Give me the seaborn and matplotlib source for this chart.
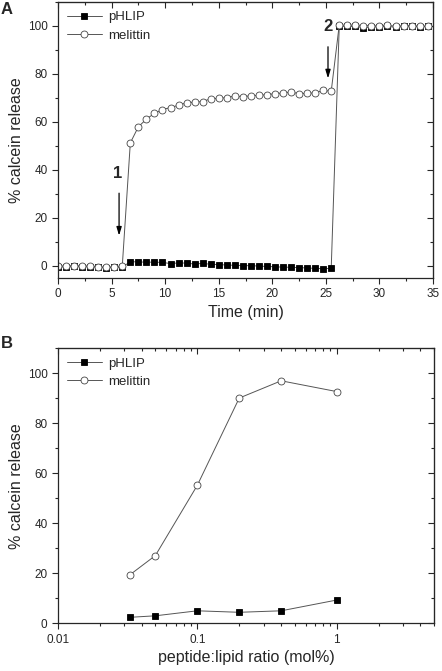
import numpy as np
import pandas as pd
import seaborn as sns
import matplotlib.pyplot as plt
from matplotlib.ticker import MultipleLocator, LogLocator, NullFormatter, FixedLocator

# panel A: time course (min), sampled every 0.75 min
time_min = [0.0, 0.75, 1.5, 2.25, 3.0, 3.75, 4.5, 5.25, 6.0, 6.75, 7.5, 8.25, 9.0,
            9.75, 10.5, 11.25, 12.0, 12.75, 13.5, 14.25, 15.0, 15.75, 16.5, 17.25,
            18.0, 18.75, 19.5, 20.25, 21.0, 21.75, 22.5, 23.25, 24.0, 24.75, 25.5,
            26.25, 27.0, 27.75, 28.5, 29.25, 30.0, 30.75, 31.5, 32.25, 33.0, 33.75, 34.5]
melittin_a = [0.0, 0.0, 0.2, 0.0, 0.0, -0.3, -0.5, -0.3, 0.0, 51.3, 58.0, 61.2, 63.6,
              65.2, 66.0, 67.0, 68.0, 68.3, 68.5, 69.7, 69.8, 70.2, 70.8, 70.6, 70.9,
              71.1, 71.4, 71.8, 72.1, 72.5, 71.8, 72.0, 72.1, 73.2, 72.8,
              100.4, 100.3, 100.4, 100.2, 100.1, 100.0, 100.3, 99.9, 100.1, 100.2, 99.9, 100.0]
phlip_a = [-0.3, -0.4, -0.2, -0.3, -0.3, -0.6, -0.7, -0.6, -0.5, 1.8, 1.7, 1.6, 1.6,
           1.5, 1.0, 1.3, 1.2, 0.8, 1.1, 0.7, 0.6, 0.4, 0.3, 0.2, 0.1,
           0.0, -0.2, -0.3, -0.5, -0.5, -0.7, -0.8, -1.0, -1.1, -1.0,
           100.0, 99.8, 99.9, 99.3, 99.6, 99.7, 99.8, 99.5, 99.8, 99.9, 99.7, 99.8]

# panel B: dose response
ratio_mol = [0.033, 0.05, 0.1, 0.2, 0.4, 1.0]
melittin_b = [19.5, 27.1, 55.2, 90.1, 97.0, 92.7]
phlip_b = [2.4, 3.0, 5.0, 4.4, 5.0, 9.3]

sns.set_style("ticks")
plt.rcParams["font.family"] = ["Liberation Sans", "DejaVu Sans"]
tick_fs = 8.5
label_fs = 11.5

fig = plt.figure(figsize=(4.42, 6.71), dpi=100)
ax_a = fig.add_axes([58 / 442, 1 - 278 / 671, 375 / 442, 276 / 671])
ax_b = fig.add_axes([58 / 442, 1 - 623.3 / 671, 376 / 442, 275 / 671])

line_grey = "#555555"


def draw_series(ax, x, y, marker, face, edge, label):
    sns.lineplot(x=x, y=y, ax=ax, color=line_grey, lw=0.7, marker=marker,
                 markersize=5, markerfacecolor=face, markeredgecolor=edge,
                 markeredgewidth=0.6, label=label, sort=False)


def style_axes(ax, xmajor, xminor, log=False):
    ax.set_ylim(-5 if not log else 0, 110)
    ax.yaxis.set_major_locator(MultipleLocator(20))
    ax.yaxis.set_minor_locator(MultipleLocator(10))
    ax.tick_params(which="major", direction="out", length=4, width=0.8, labelsize=tick_fs)
    ax.tick_params(which="minor", direction="out", length=2.5, width=0.8)
    for s in ax.spines.values():
        s.set_linewidth(0.9)
    top = ax.secondary_xaxis("top")
    right = ax.secondary_yaxis("right")
    for sec in (top, right):
        sec.tick_params(which="major", direction="in", length=4, width=0.8)
        sec.tick_params(which="minor", direction="in", length=2.5, width=0.8)
    top.set_xticks(xmajor)
    top.xaxis.set_minor_locator(FixedLocator(xminor))
    top.tick_params(labeltop=False)
    right.yaxis.set_major_locator(MultipleLocator(20))
    right.yaxis.set_minor_locator(MultipleLocator(10))
    right.tick_params(labelright=False)
    ax.set_ylabel("% calcein release", fontsize=label_fs, labelpad=3)
    ax.legend(loc="upper left", frameon=False, fontsize=9.5, handlelength=2.6,
              handletextpad=0.5, borderaxespad=0.3, labelspacing=0.45,
              bbox_to_anchor=(0.0, 1.0))


# panel A
draw_series(ax_a, time_min, phlip_a, "s", "black", "black", "pHLIP")
draw_series(ax_a, time_min, melittin_a, "o", "white", "#444444", "melittin")
ax_a.set_xlim(0, 35)
ax_a.xaxis.set_major_locator(MultipleLocator(5))
ax_a.xaxis.set_minor_locator(MultipleLocator(2.5))
style_axes(ax_a, list(range(0, 36, 5)), [2.5 + 5 * i for i in range(7)])
ax_a.set_xlabel("Time (min)", fontsize=label_fs, labelpad=3)

arrow = dict(arrowstyle="-|>,head_length=0.5,head_width=0.15", color="black", lw=0.9)
ax_a.annotate("", xy=(5.7, 11.5), xytext=(5.7, 31.5), arrowprops=arrow)
ax_a.text(5.6, 38.5, "1", fontsize=12, fontweight="bold", ha="center", va="center")
ax_a.annotate("", xy=(25.2, 77.0), xytext=(25.2, 92.5), arrowprops=arrow)
ax_a.text(25.2, 99.7, "2", fontsize=12, fontweight="bold", ha="center", va="center")

# panel B
draw_series(ax_b, ratio_mol, phlip_b, "s", "black", "black", "pHLIP")
draw_series(ax_b, ratio_mol, melittin_b, "o", "white", "#444444", "melittin")
ax_b.set_xscale("log")
ax_b.set_xlim(0.01, 5)
ax_b.set_xticks([0.01, 0.1, 1])
ax_b.set_xticklabels(["0.01", "0.1", "1"])
ax_b.xaxis.set_minor_locator(LogLocator(base=10, subs=np.arange(2, 10)))
ax_b.xaxis.set_minor_formatter(NullFormatter())
minor_b = [m * d for d in (0.01, 0.1, 1) for m in range(2, 10) if m * d <= 5]
style_axes(ax_b, [0.01, 0.1, 1], minor_b, log=True)
ax_b.set_xlabel("peptide:lipid ratio (mol%)", fontsize=label_fs, labelpad=3)

fig.text(0.002, 0.997, "A", fontsize=12, fontweight="bold", va="top", ha="left")
fig.text(0.002, 1 - 336 / 671, "B", fontsize=12, fontweight="bold", va="top", ha="left")

fig.savefig("out.png", dpi=100)
